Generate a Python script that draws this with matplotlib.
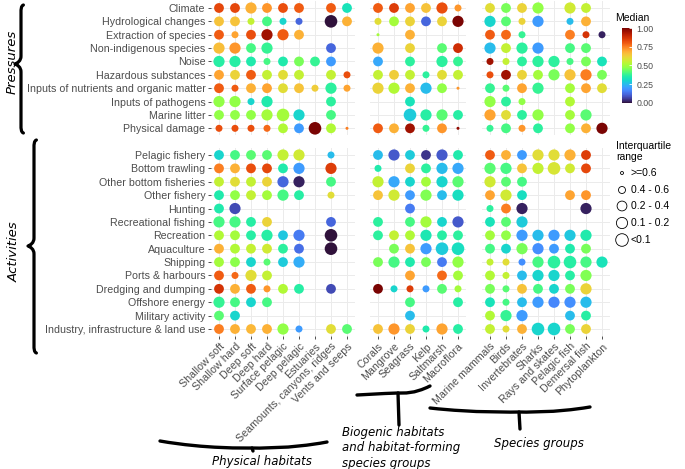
import numpy as np
import matplotlib as mpl
import matplotlib.pyplot as plt
from matplotlib.path import Path
from matplotlib.patches import PathPatch

plt.rcParams['font.family'] = ['Liberation Sans', 'DejaVu Sans']

W, H = 685, 469
N = None

pressures = ["Climate", "Hydrological changes", "Extraction of species", "Non-indigenous species",
             "Noise", "Hazardous substances", "Inputs of nutrients and organic matter",
             "Inputs of pathogens", "Marine litter", "Physical damage"]
activities = ["Pelagic fishery", "Bottom trawling", "Other bottom fisheries", "Other fishery",
              "Hunting", "Recreational fishing", "Recreation", "Aquaculture", "Shipping",
              "Ports & harbours", "Dredging and dumping", "Offshore energy", "Military activity",
              "Industry, infrastructure & land use"]

physical = ["Shallow soft", "Shallow hard", "Deep soft", "Deep hard", "Surface pelagic",
            "Deep pelagic", "Estuaries", "Seamounts, canyons, ridges", "Vents and seeps"]
biogenic = ["Corals", "Mangrove", "Seagrass", "Kelp", "Saltmarsh", "Macroflora"]
species = ["Marine mammals", "Birds", "Invertebrates", "Sharks", "Rays and skates",
           "Pelagic fish", "Demersal fish", "Phytoplankton"]

# median score, columns = physical (9) | biogenic (6) | species (8)
press_median = [
    [.83, .83, .68, .72, .82, .80, N, .80, .33,   .80, .85, .70, .65, .82, .72,   .60, .45, .62, .48, N, .57, .55, N],
    [.65, .65, .55, .40, .30, .12, N, .00, .68,   .60, .50, .62, .12, .62, 1.0,   .30, .42, .62, .20, N, .25, .68, N],
    [.80, .70, .82, .95, .80, .68, N, N, N,       .50, N, .68, N, N, N,           .80, .78, .38, N, N, .75, .87, .02],
    [.66, .72, .40, .38, N, N, N, .12, N,         .68, N, .62, N, .42, .88,       .25, .55, .37, .20, N, .40, .42, N],
    [.36, .36, .35, .40, .35, .45, .38, .20, N,   .22, N, .37, N, .37, .38,       .95, .55, .37, .37, .37, .40, .45, .33],
    [.70, .62, .80, .55, .60, .55, N, .55, .82,   .55, .63, .55, .37, .60, .55,   .82, .95, .62, .50, .45, .65, .75, .45],
    [.80, .80, .68, .70, .60, .65, .63, .37, .70, .62, .52, .68, .25, .48, .72,   .38, .42, .70, .38, N, .50, .70, .60],
    [.48, .48, .30, .35, N, N, N, .37, N,         N, N, .33, N, N, N,             .48, .37, .48, N, N, .52, N, N],
    [.48, .48, .48, .50, .50, .30, N, .40, N,     N, N, .28, .36, .42, .36,       .70, .60, .37, .48, N, .50, .42, N],
    [.82, .82, .82, .78, .52, .20, 1.0, .52, .75, .80, .68, .95, .38, .72, .97,   .38, .40, .72, .37, N, .48, .68, 1.0],
]
# interquartile range class: 0 >=0.6, 1 0.4-0.6, 2 0.2-0.4, 3 0.1-0.2, 4 <0.1
press_iqr = [
    [2, 2, 3, 2, 2, 2, N, 2, 2,   2, 2, 2, 2, 3, 1,   2, 2, 2, 3, N, 3, 2, N],
    [2, 2, 1, 2, 1, 1, N, 4, 2,   1, 2, 2, 2, 2, 3,   3, 2, 1, 3, N, 1, 2, N],
    [2, 1, 2, 3, 3, 2, N, N, N,   0, N, 2, N, N, N,   2, 2, 1, N, N, 2, 1, 1],
    [3, 3, 2, 3, N, N, N, 2, N,   3, N, 2, N, 2, 2,   3, 2, 3, 3, N, 2, 2, N],
    [3, 3, 2, 1, 2, 2, 2, 2, N,   2, N, 2, N, 3, 2,   1, 1, 2, 3, 3, 1, 2, 2],
    [2, 2, 2, 2, 2, 2, N, 2, 1,   2, 2, 2, 1, 2, 2,   1, 2, 2, 2, 3, 3, 3, 2],
    [2, 1, 2, 2, 2, 2, 1, 3, 1,   3, 3, 2, 3, 2, 0,   2, 1, 2, 3, N, 2, 2, 2],
    [3, 3, 1, 3, N, N, N, 2, N,   N, N, 2, N, N, N,   3, 2, 1, N, N, 2, N, N],
    [2, 2, 2, 3, 4, 3, N, 2, N,   N, N, 4, 3, 3, 2,   3, 2, 2, 3, N, 2, 3, N],
    [1, 1, 1, 1, 2, 2, 4, 2, 0,   2, 2, 2, 1, 2, 0,   1, 2, 1, 2, N, 2, 2, 3],
]

act_median = [
    [.30, .40, .42, .42, .55, .57, N, .25, N,     .25, .10, .28, .05, .10, .35,   .80, .68, .20, .60, .60, .68, .85, N],
    [.75, .68, .82, .83, .35, .20, N, .85, N,     .35, N, .62, .37, .25, .22,     .42, .40, .65, .55, .58, .57, .83, N],
    [.55, .60, .55, .62, .12, .02, N, .40, N,     .55, .22, .30, .50, .30, .42,   .57, .42, .40, N, N, N, N, N],
    [.35, .48, .55, .50, .40, .36, N, .60, N,     .65, .57, .20, .46, .25, .32,   .70, .57, .32, N, N, .70, .72, N],
    [.35, .08, N, N, N, N, N, N, N,               N, N, .15, N, N, N,             .37, .75, .02, N, N, N, .02, N],
    [.40, .40, .36, .62, N, N, N, .12, N,         .37, N, .40, .50, .30, .10,     .33, .42, .28, N, N, N, N, N],
    [.52, .50, .36, .36, .27, .15, N, .00, N,     .37, .55, .52, .34, .36, .37,   .50, .48, .20, .25, .20, .27, .35, N],
    [.68, .52, .55, .57, .37, .13, N, .00, N,     N, .45, .65, .20, .28, .32,     .40, .30, .45, .18, .20, .35, .45, N],
    [.50, .47, .30, .42, .28, .23, N, N, N,       .45, .40, .35, .45, .15, .48,   .55, .60, .18, .40, .37, .36, .40, .33],
    [.80, .78, .60, .55, N, N, N, N, N,           N, N, .70, N, .78, .50,         .52, .55, .25, .30, .30, .36, .46, N],
    [.87, .68, .80, .72, .52, .36, N, .08, N,     1.0, .30, .85, .20, .42, .50,   .45, .42, .65, .40, .30, .45, .62, N],
    [.38, .40, .30, .40, N, N, N, N, N,           N, N, .40, N, N, .36,           .33, .40, .25, .20, .17, .18, .25, N],
    [.42, .30, N, N, N, N, N, N, N,               N, N, .25, N, N, N,             .52, .38, .20, N, N, .25, .36, N],
    [.75, .68, .67, .68, .48, .20, N, .60, .42,   .65, .72, .62, .35, .70, .36,   .55, .60, .68, .30, .30, .45, .62, N],
]
act_iqr = [
    [2, 2, 2, 2, 3, 3, N, 1, N,   2, 3, 2, 2, 3, 2,   2, 2, 2, 3, 3, 3, 2, N],
    [2, 2, 2, 2, 2, 3, N, 3, N,   1, N, 2, 2, 3, 3,   3, 3, 2, 3, 4, 2, 2, N],
    [2, 2, 2, 2, 3, 3, N, 2, N,   3, 3, 2, 2, 3, 3,   3, 2, 2, N, N, N, N, N],
    [2, 2, 2, 2, 3, 2, N, 1, N,   2, 3, 2, 3, 2, 3,   2, 3, 2, N, N, 2, 2, N],
    [2, 3, N, N, N, N, N, N, N,   N, N, 2, N, N, N,   1, 2, 3, N, N, N, 3, N],
    [3, 3, 2, 2, N, N, N, 2, N,   2, N, 2, 3, 2, 3,   2, 2, 3, N, N, N, N, N],
    [2, 2, 2, 3, 2, 3, N, 4, N,   2, 2, 2, 3, 2, 2,   2, 2, 3, 3, 3, 3, 3, N],
    [2, 2, 2, 2, 2, 2, N, 4, N,   N, 2, 2, 3, 4, 4,   2, 2, 3, 3, 2, 2, 2, N],
    [2, 2, 2, 1, 2, 3, N, N, N,   2, 3, 2, 2, 2, 3,   1, 1, 1, 3, 4, 4, 3, 3],
    [2, 1, 3, 2, N, N, N, N, N,   N, N, 2, N, 2, 2,   2, 1, 2, 3, 3, 2, 3, N],
    [2, 2, 2, 1, 2, 2, N, 2, N,   2, 1, 1, 1, 2, 1,   2, 1, 2, 2, 2, 2, 3, N],
    [3, 2, 2, 2, N, N, N, N, N,   N, N, 2, N, N, 2,   2, 1, 2, 3, 3, 3, 3, N],
    [2, 2, N, N, N, N, N, N, N,   N, N, 2, N, N, N,   2, 3, 3, N, N, 2, 2, N],
    [2, 2, 2, 2, 3, 1, N, 2, 2,   2, 3, 2, 1, 3, 2,   2, 1, 2, 4, 4, 2, 2, N],
]

iqr_labels = [">=0.6", "0.4 - 0.6", "0.2 - 0.4", "0.1 - 0.2", "<0.1"]
dot_px = [3, 7, 9.8, 11.2, 12.6]   # dot diameters in pixels


def size_of(k):
    return (dot_px[k] * 0.72) ** 2


cmap = plt.get_cmap('turbo')
fig = plt.figure(figsize=(W / 100, H / 100), dpi=100)


def px_axes(x0, y0, x1, y1):
    return fig.add_axes([x0 / W, 1 - y1 / H, (x1 - x0) / W, (y1 - y0) / H])


step = 16
col_groups = [(physical, 211, 0), (biogenic, 370, 9), (species, 482, 15)]
row_groups = [(pressures, press_median, press_iqr, 1.3, 135.0),
              (activities, act_median, act_iqr, 148.3, 335.7)]

for ri, (rows, med, iqr, y0, y1) in enumerate(row_groups):
    for ci, (cols, x0, off) in enumerate(col_groups):
        ax = px_axes(x0, y0, x0 + step * len(cols), y1)
        ax.set_xlim(-0.5, len(cols) - 0.5)
        ax.set_ylim(len(rows) - 0.5, -0.5)
        ax.set_xticks(range(len(cols)))
        ax.set_yticks(range(len(rows)))
        ax.grid(True, color='#ebebeb', lw=0.7)
        ax.set_axisbelow(True)
        for s in ax.spines.values():
            s.set_visible(False)
        xs, ys, cs, ss = [], [], [], []
        for r in range(len(rows)):
            for c in range(len(cols)):
                m = med[r][off + c]
                if m is None:
                    continue
                xs.append(c)
                ys.append(r)
                cs.append(m)
                ss.append(size_of(iqr[r][off + c]))
        ax.scatter(xs, ys, c=cs, s=ss, cmap=cmap, vmin=0, vmax=1, linewidths=0, zorder=3)
        ax.tick_params(length=2.5, width=0.6, color='#333333', labelcolor='#4d4d4d',
                       labelsize=7.7, pad=1.5)
        if ci == 0:
            ax.set_yticklabels(rows)
        else:
            ax.tick_params(axis='y', left=False, labelleft=False)
        if ri == 1:
            ax.set_xticklabels(cols, rotation=45, ha='right', va='top', rotation_mode='anchor')
        else:
            ax.tick_params(axis='x', bottom=False, labelbottom=False)

# colour legend
cax = px_axes(622, 28, 632, 103)
cb = fig.colorbar(mpl.cm.ScalarMappable(norm=mpl.colors.Normalize(0, 1), cmap=cmap), cax=cax)
cb.outline.set_visible(False)
cb.set_ticks([0, 0.25, 0.5, 0.75, 1.0])
cb.set_ticklabels(["0.00", "0.25", "0.50", "0.75", "1.00"])
cax.tick_params(length=2, width=0.6, color='white', direction='in', labelsize=6.3,
                labelcolor='#4d4d4d', pad=3)

# overlay in pixel coordinates for legends and braces
ov = fig.add_axes([0, 0, 1, 1], zorder=-1)
ov.set_xlim(0, W)
ov.set_ylim(H, 0)
ov.axis('off')

ov.text(615, 18, "Median", fontsize=7.5, va='center', ha='left')
ov.text(616, 141, "Interquartile\nrange", fontsize=7.5, va='top', ha='left', linespacing=1.15)
leg_y = [173, 190, 206, 223, 240]
for k, lab in enumerate(iqr_labels):
    ov.scatter([622], [leg_y[k]], s=size_of(k), facecolors='none', edgecolors='black', linewidths=0.6)
    ov.text(631, leg_y[k], lab, fontsize=7.5, va='center', ha='left')


def draw(verts, codes, lw):
    ov.add_patch(PathPatch(Path(verts, codes), fill=False, lw=lw, color='black',
                           capstyle='round', joinstyle='round'))


C4 = Path.CURVE4


def vbrace(x, y0, y1, tipx, ym, lw=2.3):
    d = x - tipx
    verts = [(x + d * 0.4, y0), (x, y0 + 1), (x, y0 + 4), (x, y0 + 8),
             (x, ym - 8),
             (x, ym - 3), (tipx + d * 0.4, ym - 1), (tipx, ym),
             (tipx + d * 0.4, ym + 1), (x, ym + 3), (x, ym + 8),
             (x, y1 - 8),
             (x, y1 - 4), (x, y1 - 1), (x + d * 0.4, y1)]
    codes = [Path.MOVETO, C4, C4, C4, Path.LINETO, C4, C4, C4, C4, C4, C4, Path.LINETO, C4, C4, C4]
    draw(verts, codes, lw)


def hbrace(x0, yl, x1, yr, xm, ym, stem=0, lw=2.4):
    verts = [(x0, yl), ((x0 + xm) / 2, ym + 1), (xm - 6, ym), (xm, ym),
             (xm + 6, ym), ((xm + x1) / 2, ym + 1), (x1, yr)]
    codes = [Path.MOVETO, C4, C4, C4, C4, C4, C4]
    draw(verts, codes, lw)
    if stem:
        draw([(xm, ym), (xm + 1, ym + stem)], [Path.MOVETO, Path.LINETO], lw)


vbrace(21, 5, 133, 15, 64)
vbrace(34, 140, 353, 28, 246)
ov.text(12, 62, "Pressures", rotation=90, fontsize=9.5, style='italic', family='DejaVu Sans',
        ha='center', va='center')
ov.text(14, 252, "Activities", rotation=90, fontsize=9.5, style='italic', family='DejaVu Sans',
        ha='center', va='center')

hbrace(160, 441, 327, 442, 252, 448, stem=3)
hbrace(357, 395, 430, 386, 398, 393, stem=32)
hbrace(430, 408, 590, 407, 519, 412, stem=17)

ov.text(262, 462, "Physical habitats", fontsize=8.5, style='italic', family='DejaVu Sans',
        ha='center', va='center')
ov.text(342, 448, "Biogenic habitats\nand habitat-forming\nspecies groups", fontsize=8.5,
        style='italic', family='DejaVu Sans', ha='left', va='center', linespacing=1.25)
ov.text(539, 443, "Species groups", fontsize=8.5, style='italic', family='DejaVu Sans',
        ha='center', va='center')

fig.savefig("out.png", dpi=100)
